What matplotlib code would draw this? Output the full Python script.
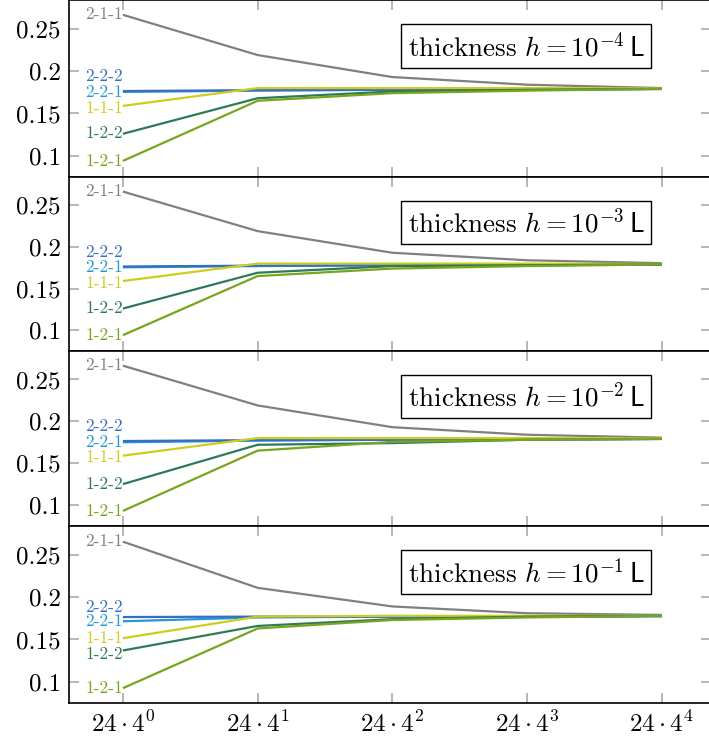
import numpy as np
import matplotlib
matplotlib.use('Agg')
import matplotlib.pyplot as plt

plt.rcParams['font.family'] = 'serif'
plt.rcParams['font.serif'] = ['cmr10']
plt.rcParams['mathtext.fontset'] = 'cm'
plt.rcParams['axes.unicode_minus'] = False

x = np.arange(5)
xticklabels = [r'$24\cdot 4^{%d}$' % k for k in range(5)]
yticks = [0.1, 0.15, 0.2, 0.25]
yticklabels = ['0.1', '0.15', '0.2', '0.25']
exponents = [-4, -3, -2, -1]

names = ['2-1-1', '2-2-1', '2-2-2', '1-1-1', '1-2-2', '1-2-1']
colors = ['#808080', '#1f9ad6', '#3a6cc0', '#cfcc1f', '#2e7a57', '#78a51e']

# values per panel (h = 1e-4, 1e-3, 1e-2, 1e-1)
p1 = {
    '2-1-1': [0.2665, 0.219, 0.193, 0.184, 0.180],
    '2-2-2': [0.1765, 0.1775, 0.178, 0.1785, 0.179],
    '2-2-1': [0.1755, 0.177, 0.178, 0.1785, 0.179],
    '1-1-1': [0.159, 0.180, 0.180, 0.180, 0.1795],
    '1-2-2': [0.126, 0.168, 0.176, 0.178, 0.179],
    '1-2-1': [0.094, 0.165, 0.174, 0.177, 0.179],
}
p2 = {
    '2-1-1': [0.2665, 0.219, 0.193, 0.184, 0.1805],
    '2-2-2': [0.1765, 0.1775, 0.178, 0.1785, 0.179],
    '2-2-1': [0.1755, 0.177, 0.178, 0.1785, 0.179],
    '1-1-1': [0.159, 0.180, 0.180, 0.180, 0.1795],
    '1-2-2': [0.126, 0.169, 0.177, 0.178, 0.179],
    '1-2-1': [0.094, 0.165, 0.174, 0.177, 0.179],
}
p3 = {
    '2-1-1': [0.2665, 0.219, 0.193, 0.184, 0.1805],
    '2-2-2': [0.1765, 0.1775, 0.178, 0.1785, 0.179],
    '2-2-1': [0.175, 0.177, 0.178, 0.1785, 0.179],
    '1-1-1': [0.159, 0.180, 0.180, 0.180, 0.1795],
    '1-2-2': [0.125, 0.172, 0.174, 0.178, 0.179],
    '1-2-1': [0.093, 0.165, 0.1755, 0.178, 0.179],
}
p4 = {
    '2-1-1': [0.2655, 0.211, 0.189, 0.181, 0.179],
    '2-2-2': [0.1765, 0.177, 0.177, 0.177, 0.1775],
    '2-2-1': [0.1715, 0.176, 0.177, 0.177, 0.1775],
    '1-1-1': [0.1515, 0.177, 0.178, 0.178, 0.178],
    '1-2-2': [0.137, 0.166, 0.174, 0.177, 0.178],
    '1-2-1': [0.0925, 0.163, 0.173, 0.176, 0.178],
}
panels = [p1, p2, p3, p4]
# label offsets (points) so overlapping labels stay readable
label_dy = {'2-2-2': [10.5, 10.5, 10.5, 7],
            '1-1-1': [-1.5, -1.5, -1.5, 0],
            '1-2-2': [0, 0, 0, -3]}

fig = plt.figure(figsize=(7.09, 7.40), dpi=100)
W, H = 709, 740
left, right = 69, 711
tops = [0, 177, 351, 526]
bots = [177, 351, 526, 703]

for i, data in enumerate(panels):
    ax = fig.add_axes([left / W, 1 - bots[i] / H, (right - left) / W, (bots[i] - tops[i]) / H])
    for name, c in zip(names, colors):
        ax.plot(x, data[name], color=c, lw=1.6, solid_capstyle='butt')
        dy = label_dy.get(name, [0, 0, 0, 0])[i]
        ax.annotate(name, (x[0], data[name][0]), xytext=(0, dy), textcoords='offset points',
                    ha='right', va='center', color=c, fontsize=12.5)
    ax.set_xlim(-0.4, 4.365)
    ax.set_ylim(0.075, 0.284)
    ax.set_yticks(yticks)
    ax.set_yticklabels(yticklabels, fontsize=18)
    ax.set_xticks(x)
    if i == 3:
        ax.set_xticklabels(xticklabels, fontsize=18)
    else:
        ax.set_xticklabels([])
    ax.tick_params(direction='in', length=7, color='#aaaaaa', width=1.2,
                   top=True, right=True, pad=6)
    for s in ax.spines.values():
        s.set_linewidth(1.2)
    ax.text(0.712, 0.74, r'thickness $h=10^{%d}\,\mathsf{L}$' % exponents[i],
            transform=ax.transAxes, ha='center', va='center', fontsize=19.5,
            bbox=dict(boxstyle='square,pad=0.25', fc='white', ec='black', lw=1))

fig.savefig('out.png', dpi=100)
